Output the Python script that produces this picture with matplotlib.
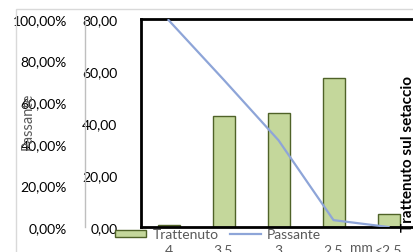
import matplotlib.pyplot as plt
from matplotlib.patches import Rectangle

# data
categories = ['4', '3.5', '3', '2.5', '<2.5']
trattenuto = [0.9, 42.7, 43.7, 57.3, 5.0]
passante = [99.5, 70.9, 41.7, 3.3, 0.0]
bar_ticks = [0, 20, 40, 60, 80]
pct_ticks = [0, 20, 40, 60, 80, 100]

plt.rcParams['font.family'] = ['Lato', 'DejaVu Sans']
gray = '#595959'

W, H = 413, 253
fig = plt.figure(figsize=(W / 100, H / 100), dpi=100)

# outer chart border
fig.add_artist(Rectangle((16 / W, -0.1), 1.2, (H - 10) / H + 0.1, transform=fig.transFigure,
                         fill=False, edgecolor='#d9d9d9', linewidth=1))

left, right, top, bottom = 141, 416, 20, 228
ax = fig.add_axes([left / W, 1 - bottom / H, (right - left) / W, (bottom - top) / H])
x = list(range(len(categories)))

bars = ax.bar(x, trattenuto, width=0.4, color='#c4d79b', edgecolor='#4f6228', linewidth=1,
              label='Trattenuto', zorder=2)
ax.set_xlim(-0.5, 4.5)
ax.set_ylim(0, 80)
ax.set_yticks(bar_ticks)
ax.set_yticklabels([f'{v:.2f}'.replace('.', ',') for v in bar_ticks], fontsize=10, color='black')
ax.tick_params(axis='y', length=0, pad=17)
ax.set_xticks(x)
ax.set_xticklabels(categories, fontsize=10, color=gray)
ax.tick_params(axis='x', length=0, pad=12)
for s in ['top', 'left', 'bottom']:
    ax.spines[s].set_linewidth(2)
    ax.spines[s].set_color('black')
ax.spines['right'].set_visible(False)
ax.text((361 - left) / (right - left), -20 / (bottom - top), 'mm', transform=ax.transAxes,
        ha='center', va='center', fontsize=10, color=gray)

ax2 = ax.twinx()
line, = ax2.plot(x, passante, color='#8ea5d8', linewidth=1.6, label='Passante', zorder=3)
ax2.set_ylim(0, 100)
ax2.set_yticks(pct_ticks)
ax2.set_yticklabels([f'{v:.2f}%'.replace('.', ',') for v in pct_ticks], fontsize=9, color=gray)
ax2.yaxis.set_ticks_position('left')
ax2.yaxis.set_label_position('left')
ax2.spines['left'].set_position(('axes', (85 - left) / (right - left)))
ax2.spines['left'].set_color('#bfbfbf')
ax2.spines['left'].set_linewidth(1)
for s in ['top', 'right', 'bottom']:
    ax2.spines[s].set_visible(False)
ax2.tick_params(axis='y', length=0, pad=13)
ax2.set_ylabel('Passante', fontsize=10.5, color=gray)
ax2.yaxis.set_label_coords((35 - left) / (right - left), (bottom - 121) / (bottom - top))

fig.text(408 / W, 1 - 232 / H, 'Trattenuto sul setaccio', rotation=90, ha='center', va='bottom',
         fontsize=11, fontweight='bold', color='black')

fig.legend([bars, line], ['Trattenuto', 'Passante'], loc='center left',
           bbox_to_anchor=(115 / W, 1 - 235 / H), ncol=2, frameon=False, fontsize=10,
           handlelength=2.25, handleheight=0.4, handletextpad=0.45, columnspacing=0.8,
           labelcolor=gray, borderpad=0, borderaxespad=0)

fig.savefig('out.png', dpi=100)
plt.close()
